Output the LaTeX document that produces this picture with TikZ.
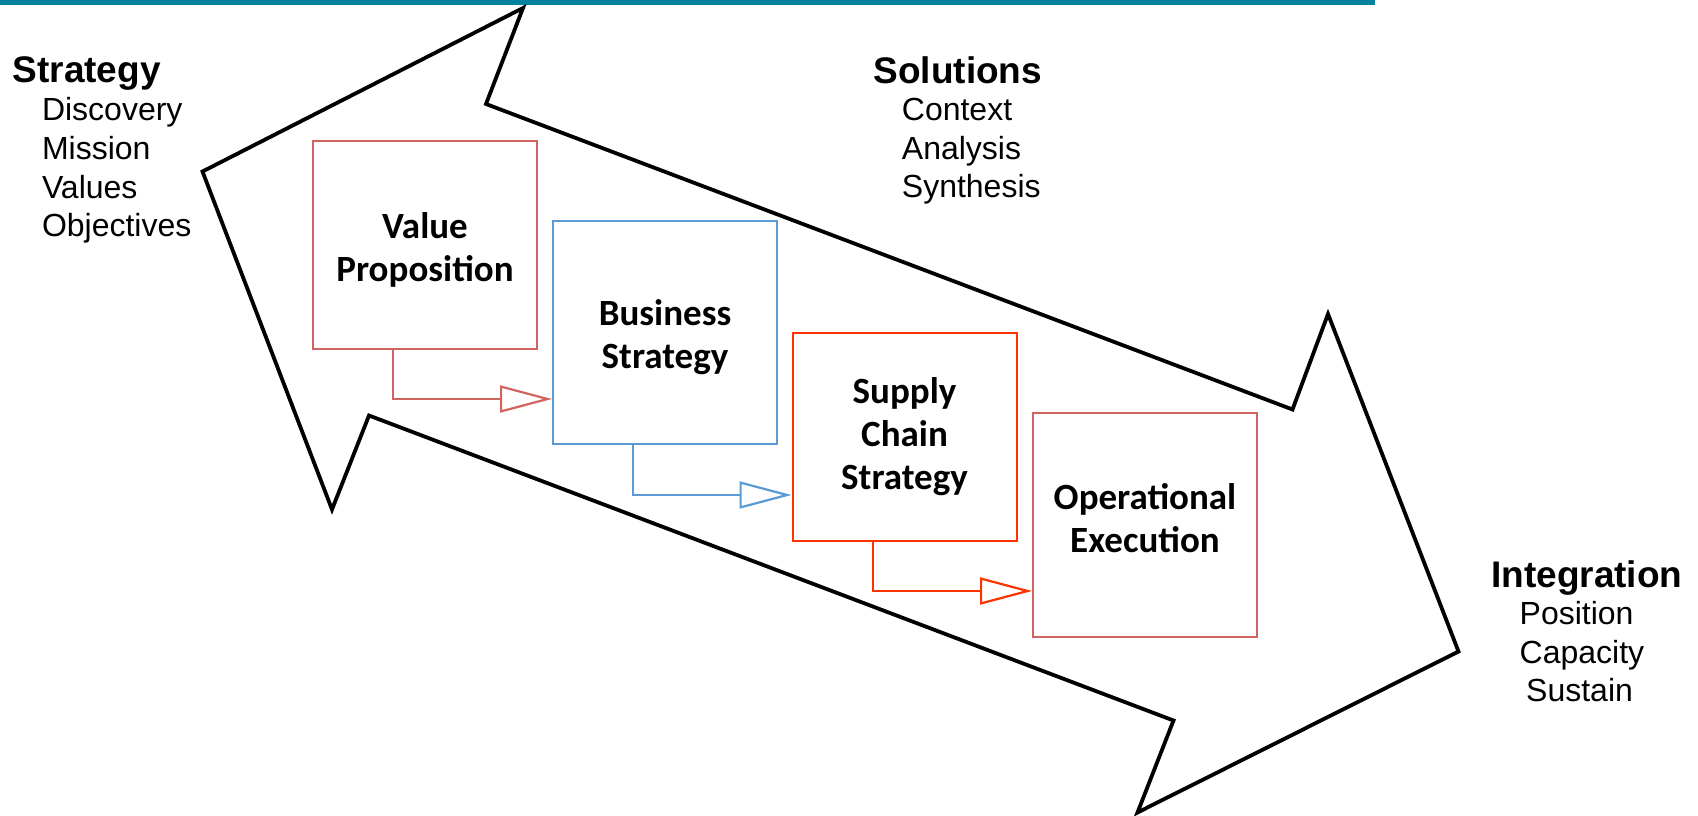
\documentclass[tikz,border=0pt]{standalone}
\usepackage{fontspec}
\setmainfont{Liberation Sans}
\newfontfamily\boxfont{Carlito}
\usetikzlibrary{arrows.meta,calc}
\definecolor{tealbar}{RGB}{0,130,160}
\definecolor{softred}{RGB}{210,100,95}
\definecolor{blueone}{RGB}{91,155,213}
\definecolor{brightred}{RGB}{255,51,0}
\begin{document}
\begin{tikzpicture}[x=1pt,y=-1pt,
  boxstyle/.style={draw=#1, line width=2pt, minimum width=224pt, inner sep=0pt},
  boxlabel/.style={inner sep=0pt, font=\boxfont\bfseries\fontsize{37}{43}\selectfont, align=center},
  conn/.style={draw=#1, line width=2.2pt, -{Triangle[length=52pt, width=27pt, fill=white]}},
  headtext/.style={anchor=base west, inner sep=0pt, font=\bfseries\fontsize{37}{44}\selectfont},
  itemtext/.style={anchor=base west, inner sep=0pt, font=\fontsize{32}{38}\selectfont},
]
\useasboundingbox (0,0) rectangle (1698,816);
\fill[tealbar] (0,0) rectangle (1375,5);
% big double arrow
\draw[line width=3.8pt, line join=miter, fill=white]
  (523,8) -- (486,104) -- (1292.5,409.5) -- (1328,314) -- (1458.5,651.5)
  -- (1137.5,812.5) -- (1173.5,720.5) -- (369,415.5) -- (332,509.5)
  -- (202.5,171.5) -- cycle;
% boxes
\node[boxstyle=softred, minimum height=208pt] (vp) at (425,245) {};
\node[boxstyle=blueone, minimum height=223pt] (bs) at (665,332.5) {};
\node[boxstyle=brightred, minimum height=208pt] (sc) at (904.5,437) {};
\node[boxstyle=softred, minimum height=224pt] (oe) at (1145,525) {};
% box labels
\node[boxlabel] (vpt) at ([yshift=-5pt]vp.center) {Value\\Proposition};
\node[boxlabel] (bst) at ([yshift=-5pt]bs.center) {Business\\Strategy};
\node[boxlabel] (sct) at (sc.center) {Supply\\Chain\\Strategy};
\node[boxlabel] (oet) at ([yshift=7pt]oe.center) {Operational\\Execution};
% connectors
\draw[conn=softred] ([xshift=-32.3pt]vp.south) |- ([yshift=-66.5pt]bs.west);
\draw[conn=blueone] ([xshift=-32.3pt]bs.south) |- ([yshift=-58pt]sc.west);
\draw[conn=brightred] ([xshift=-31.2pt]sc.south) |- ([yshift=-66pt]oe.west);
% side texts
\node[headtext] (strat) at (12.5,82.7) {Strategy};
\node[itemtext] (disc) at (41.8,121) {Discovery};
\node[itemtext] (miss) at (41.8,159.5) {Mission};
\node[itemtext] (vals) at (41.8,198) {Values};
\node[itemtext] (objs) at (41.8,236.5) {Objectives};
\node[headtext] (sol) at (873.3,83.3) {Solutions};
\node[itemtext] (ctx) at (901.7,121) {Context};
\node[itemtext] (ana) at (901.7,159) {Analysis};
\node[itemtext] (syn) at (901.7,197) {Synthesis};
\node[headtext] (integ) at (1491,587.7) {Integration};
\node[itemtext] (pos) at (1519.5,624) {Position};
\node[itemtext] (cap) at (1519.5,663) {Capacity};
\node[itemtext] (sus) at (1526,701) {Sustain};
\end{tikzpicture}
\end{document}
